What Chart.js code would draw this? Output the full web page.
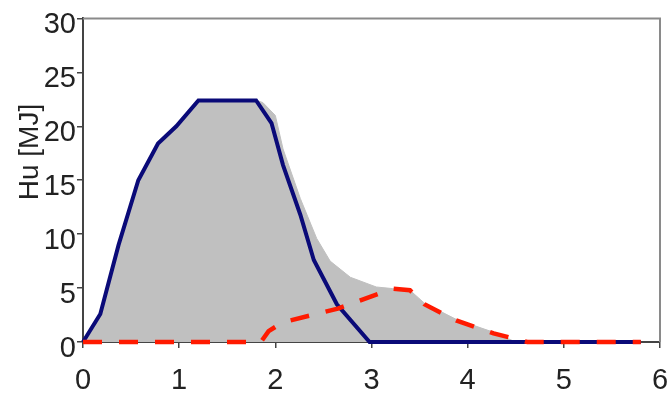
<!DOCTYPE html>
<html>
<head>
<meta charset="utf-8">
<script src="https://cdn.jsdelivr.net/npm/chart.js@4"></script>
<style>
  html, body { margin: 0; padding: 0; background: #fff; }
  #wrap { width: 672px; height: 394px; }
</style>
</head>
<body>
<div id="wrap"><canvas id="hu"></canvas></div>
<script>
// values
const totalX = [0, 0.18, 0.37, 0.575, 0.78, 0.97, 1.2, 1.8, 1.87, 2.0, 2.08, 2.26, 2.43, 2.57, 2.78, 3.05, 3.22, 3.4, 3.55, 3.88, 4.27, 4.5, 5.8]
const totalY = [0, 2.6, 9.0, 15.0, 18.4, 20.0, 22.4, 22.4, 22.2, 21.0, 17.9, 13.3, 9.6, 7.5, 6.0, 5.1, 4.95, 4.8, 3.6, 2.1, 0.9, 0, 0]

const blueX = [0, 0.18, 0.37, 0.575, 0.78, 0.97, 1.2, 1.8, 1.96, 2.08, 2.26, 2.4, 2.64, 2.98, 5.8]
const blueY = [0, 2.6, 9.0, 15.0, 18.4, 20.0, 22.4, 22.4, 20.3, 16.4, 11.8, 7.6, 3.5, 0, 0]

const redX = [0, 1.85, 1.93, 2.07, 2.65, 3.22, 3.4, 3.55, 3.88, 4.27, 4.47, 4.62, 5.8]
const redY = [0, 0, 1.0, 1.8, 3.1, 4.95, 4.8, 3.5, 2.0, 0.8, 0.35, 0, 0]

const yTicks = [0, 5, 10, 15, 20, 25, 30]
const xTicks = [0, 1, 2, 3, 4, 5, 6]
const yTitle = 'Hu [MJ]'

function pts(xs, ys) {
  return xs.map((x, i) => ({ x: x, y: ys[i] }))
}

const font = { family: 'Liberation Sans, Arial, sans-serif', size: 29 }

// plot box + rotated axis title
const boxPlugin = {
  id: 'box',
  afterDraw(chart) {
    const ctx = chart.ctx
    const a = chart.chartArea
    ctx.save()
    ctx.strokeStyle = '#8a8a8a'
    ctx.lineWidth = 2
    ctx.beginPath()
    ctx.moveTo(a.left, a.top)
    ctx.lineTo(a.right, a.top)
    ctx.lineTo(a.right, a.bottom)
    ctx.stroke()

    ctx.translate(30, 152)
    ctx.rotate(-Math.PI / 2)
    ctx.fillStyle = '#222'
    ctx.font = '28px Liberation Sans, Arial, sans-serif'
    ctx.textAlign = 'center'
    ctx.textBaseline = 'middle'
    ctx.fillText(yTitle, 0, 0)
    ctx.restore()
  }
}

new Chart(document.getElementById('hu'), {
  type: 'line',
  data: {
    datasets: [
      {
        data: pts(redX, redY),
        borderColor: '#ff1a00',
        borderWidth: 4.5,
        borderDash: [19, 17],
        pointRadius: 0,
        fill: false,
        clip: 5,
        order: 0
      },
      {
        data: pts(blueX, blueY),
        borderColor: '#0a0a78',
        borderWidth: 4,
        pointRadius: 0,
        fill: false,
        clip: 5,
        order: 1
      },
      {
        data: pts(totalX, totalY),
        borderColor: '#c0c0c0',
        borderWidth: 1,
        backgroundColor: '#c0c0c0',
        pointRadius: 0,
        fill: 'origin',
        order: 2
      }
    ]
  },
  options: {
    responsive: true,
    maintainAspectRatio: false,
    animation: false,
    layout: { padding: { left: 0, top: 15, right: 12, bottom: 0 } },
    plugins: { legend: { display: false }, tooltip: { enabled: false } },
    scales: {
      x: {
        type: 'linear',
        min: 0,
        max: 6,
        afterBuildTicks: (s) => { s.ticks = xTicks.map(v => ({ value: v })) },
        afterFit: (s) => {
          s.height = 52
          s.paddingLeft = 0
          s.paddingRight = 12
        },
        grid: { drawOnChartArea: false, drawTicks: true, tickLength: 6, color: '#444', lineWidth: 1.5 },
        border: { color: '#444', width: 2 },
        ticks: { font: font, color: '#222', padding: 16, maxRotation: 0 }
      },
      y: {
        min: 0,
        max: 30,
        afterBuildTicks: (s) => { s.ticks = yTicks.map(v => ({ value: v })) },
        afterFit: (s) => { s.width = 83 },
        grid: { drawOnChartArea: false, drawTicks: true, tickLength: 6, color: '#444', lineWidth: 1.5 },
        border: { color: '#444', width: 2 },
        ticks: { font: font, color: '#222', padding: 1, labelOffset: 7 }
      }
    }
  },
  plugins: [boxPlugin]
})
</script>
</body>
</html>
